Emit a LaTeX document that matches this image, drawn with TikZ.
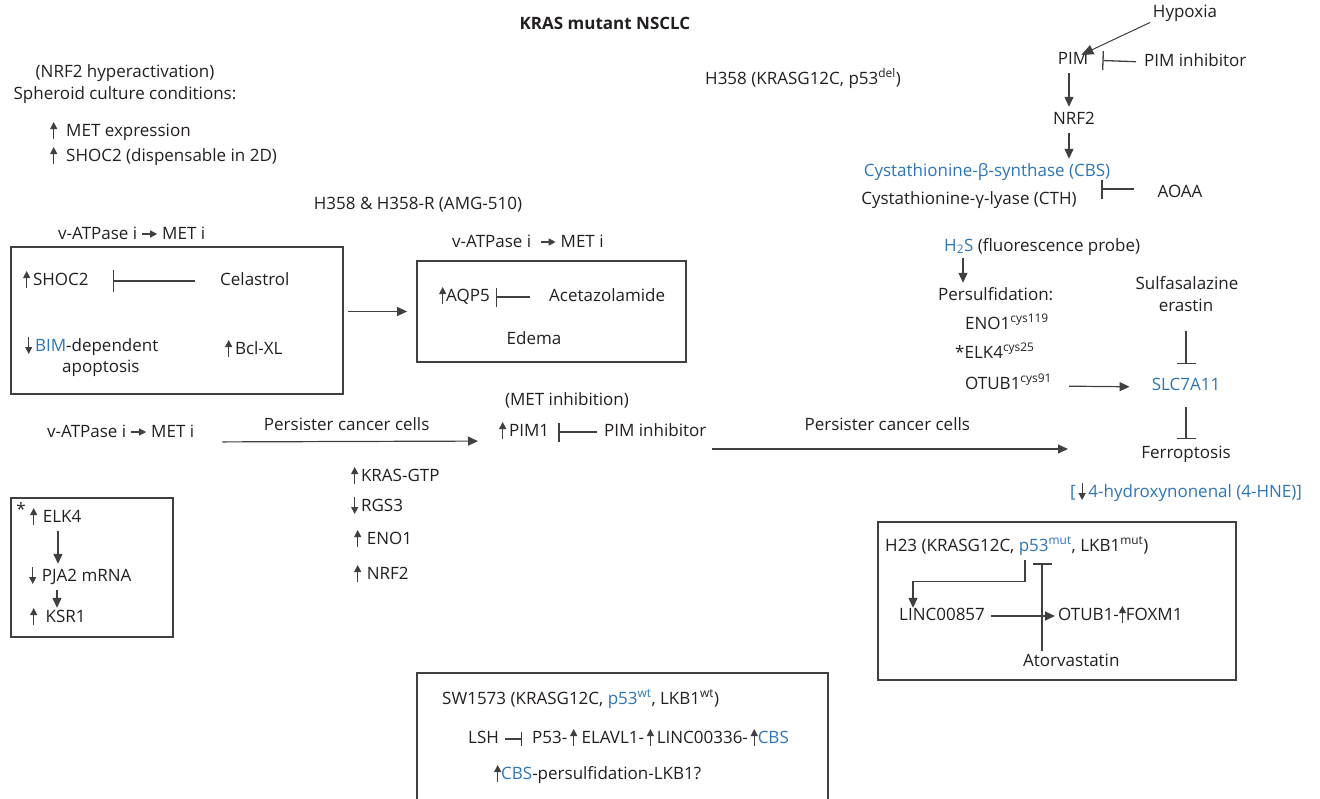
\documentclass[tikz,border=0pt]{standalone}
\usepackage{fontspec}
\setmainfont{Open Sans}
\usetikzlibrary{arrows.meta}

\definecolor{inkgray}{RGB}{35,31,32}
\definecolor{linegray}{RGB}{64,64,64}
\definecolor{geneblue}{RGB}{46,117,182}

% small arrows inside the texts
\newcommand{\arrup}{\tikz[baseline=0pt,x=1pt,y=1pt]\draw[linegray,line width=1.2pt,-{Triangle[length=7pt,width=7pt]}] (0,-3) -- (0,14);}
\newcommand{\arrdown}{\tikz[baseline=0pt,x=1pt,y=1pt]\draw[linegray,line width=1.2pt,-{Triangle[length=7pt,width=7pt]}] (0,14) -- (0,-3);}
\newcommand{\arrright}{\tikz[baseline=0pt,x=1pt,y=1pt]\draw[linegray,line width=1.2pt,-{Triangle[length=7pt,width=7pt]}] (0,5) -- (15,5);}
\newcommand{\gene}[1]{\textcolor{geneblue}{#1}}

\begin{document}
\begin{tikzpicture}[x=1pt,y=-1pt,
    txt/.style={font=\fontsize{17}{20}\selectfont, text=inkgray, inner sep=0pt, text height=12pt, text depth=4pt},
    lft/.style={txt, anchor=west},
    arr/.style={draw=linegray, line width=1.2pt, -{Triangle[length=10pt,width=9pt]}},
    inh/.style={draw=linegray, line width=1.3pt, -{Bar[width=19pt,line width=1.3pt]}},
    box/.style={draw=linegray, line width=1.7pt, inner sep=0pt}]
    \useasboundingbox (0,0) rectangle (1320,798);

    % title
    \node[txt, font=\fontsize{17}{20}\selectfont\bfseries] (title) at (605,25) {KRAS mutant NSCLC};

    % spheroid culture notes
    \node[txt] (hyperact) at (125,73) {(NRF2 hyperactivation)};
    \node[txt] (spheroid) at (125,95) {Spheroid culture conditions:};
    \node[lft] (metexpr) at (50,132) {\arrup\hspace{9pt}MET expression};
    \node[lft] (shocdisp) at (50,157) {\arrup\hspace{9pt}SHOC2 (dispensable in 2D)};

    % cell lines
    \node[lft] (hdel) at (705,80) {H358 (KRASG12C, p53\textsuperscript{del})};
    \node[txt] (hamg) at (418,205) {H358 \& H358-R (AMG-510)};

    % first box
    \node[lft] (vmeta) at (58,235) {v-ATPase i \arrright\ MET i};
    \node[box, minimum width=332, minimum height=147] (boxa) at (177,320.5) {};
    \node[lft] (shoc) at (23,281) {\arrup\,SHOC2};
    \node[lft] (celast) at (220,281) {Celastrol};
    \node[lft] (bim) at (25,347) {\arrdown\,\gene{BIM}-dependent};
    \node[lft] (apopt) at (62,368) {apoptosis};
    \node[lft] (bclxl) at (225,350) {\arrup\,Bcl-XL};
    \draw[inh, -{Bar[width=22pt,line width=1.3pt]}, shorten <=25pt, shorten >=24pt] (celast.west) -- (shoc.east);

    % second box
    \node[lft] (vmetb) at (452,243) {v-ATPase i \ \arrright\ MET i};
    \node[box, minimum width=269, minimum height=101] (boxb) at (551.5,311.5) {};
    \node[lft] (aqp) at (439,297) {\arrup AQP5};
    \node[lft] (acetaz) at (549,297) {Acetazolamide};
    \node[txt] (edema) at (534,340) {Edema};
    \draw[inh, shorten <=19pt, shorten >=6pt] (acetaz.west) -- (aqp.east);
    \draw[arr, shorten <=4pt, shorten >=9pt] (boxa.east |- boxb.west) -- (boxb.west);

    % persister cells, PIM1
    \node[lft] (vmetc) at (47,433) {v-ATPase i \arrright\ MET i};
    \node[txt] (metinh) at (567,401) {(MET inhibition)};
    \node[lft] (pimone) at (499,432) {\arrup\,PIM1};
    \node[lft] (piminha) at (604,432) {PIM inhibitor};
    \draw[arr, shorten <=28pt, shorten >=21pt] ([yshift=-9pt]vmetc.east) -- ([yshift=-9pt]pimone.west)
        node[txt, midway, above=6pt] (persista) {Persister cancer cells};
    \draw[inh, shorten <=7pt, shorten >=9pt] (piminha.west) -- (pimone.east);
    \coordinate (persistend) at (1068,449);
    \draw[arr, shorten <=5pt] ([yshift=-17pt]piminha.east) -- (persistend)
        node[txt, midway, above=14pt] (persistb) {Persister cancer cells};

    \node[lft] (krasgtp) at (351,477) {\arrup\,KRAS-GTP};
    \node[lft] (rgs) at (351,507) {\arrdown\,RGS3};
    \node[lft] (enoa) at (354,540) {\arrup\,\,ENO1};
    \node[lft] (nrfb) at (354,575) {\arrup\,\,NRF2};

    % ELK4 box
    \node[box, minimum width=162, minimum height=139] (boxc) at (92,567.5) {};
    \node[txt] (star) at (21,511) {*};
    \node[lft] (elk) at (30,518) {\arrup\,\,ELK4};
    \node[lft] (pja) at (29,577) {\arrdown\,\,PJA2 mRNA};
    \node[lft] (ksr) at (30,618) {\arrup\,\,\,KSR1};
    \draw[arr, shorten <=5pt, shorten >=5pt] ([xshift=28pt]elk.south west) -- ([xshift=28pt]elk.south west |- pja.north);
    \draw[arr, shorten <=5pt, shorten >=2pt] ([xshift=28pt]pja.south west) -- ([xshift=28pt]pja.south west |- ksr.north);

    % hypoxia - PIM - NRF2 - CBS
    \node[txt] (hypoxia) at (1185,13) {Hypoxia};
    \node[txt] (pim) at (1073,60) {PIM};
    \node[lft] (piminhb) at (1144,62) {PIM inhibitor};
    \node[txt] (nrf) at (1074,120) {NRF2};
    \node[txt, text=geneblue] (cbs) at (987,172) {Cystathionine-β-synthase (CBS)};
    \node[txt] (cth) at (969,200) {Cystathionine-γ-lyase (CTH)};
    \node[txt] (aoaa) at (1180,193) {AOAA};
    \draw[arr, line width=1pt, -{Triangle[length=12pt,width=10pt]}, shorten <=3pt] (hypoxia.south west) -- ([xshift=-7pt,yshift=-3pt]pim.north east);
    \draw[inh, shorten <=8pt, shorten >=14pt] (piminhb.west) -- (pim.east);
    \draw[arr, shorten <=5pt, shorten >=5pt] ([xshift=-4pt]pim.south) -- ([xshift=-4pt]pim.south |- nrf.north);
    \draw[arr, shorten <=5pt, shorten >=5pt] ([xshift=-5pt]nrf.south) -- ([xshift=-5pt]nrf.south |- cbs.north);
    \draw[inh, shorten <=23pt] ([yshift=4pt]aoaa.west) -- ++(-56,0);

    % H2S and persulfidation
    \node[lft] (hydsulf) at (944,247) {\gene{H\textsubscript{2}S} (fluorescence probe)};
    \node[lft] (persulf) at (938,296) {Persulfidation:};
    \node[lft] (enoc) at (965,325) {ENO1\textsuperscript{cys119}};
    \node[lft] (elkc) at (955,354) {*ELK4\textsuperscript{cys25}};
    \node[lft] (otubc) at (965,385) {OTUB1\textsuperscript{cys91}};
    \draw[arr, shorten <=3pt, shorten >=5pt] ([xshift=19pt]hydsulf.south west) -- ([xshift=19pt]hydsulf.south west |- persulf.north);

    % SLC7A11 and ferroptosis
    \node[txt] (sulfa) at (1187,285) {Sulfasalazine};
    \node[txt] (erastin) at (1186,307) {erastin};
    \node[txt, text=geneblue] (slc) at (1186,386) {SLC7A11};
    \node[txt] (ferro) at (1186,454) {Ferroptosis};
    \node[lft, text=geneblue] (hne) at (1070,493) {[\,\arrdown\,4-hydroxynonenal (4-HNE)]};
    \draw[arr, shorten <=17pt, shorten >=22pt] ([yshift=-1pt]otubc.east) -- ([yshift=-1pt]slc.west);
    \draw[inh, shorten <=16pt, shorten >=14pt] (erastin.south) -- (slc.north);
    \draw[inh, shorten <=13pt, shorten >=7pt] (slc.south) -- (ferro.north);

    % H23 box
    \node[box, minimum width=358, minimum height=158] (boxd) at (1057,601) {};
    \node[lft] (hthree) at (885,547) {H23 (KRASG12C, \gene{p53\textsuperscript{mut}}, LKB1\textsuperscript{mut})};
    \node[lft] (lincfive) at (899,616) {LINC00857};
    \node[lft] (otubf) at (1058,616) {OTUB1-\arrup FOXM1};
    \node[lft] (atorva) at (1023,662) {Atorvastatin};
    \draw[arr, shorten <=5pt] ([xshift=140pt]hthree.south west) -- ++(0,26) -| ([xshift=14pt]lincfive.north west);
    \draw[arr, shorten <=6pt, shorten >=3pt] (lincfive.east) -- (otubf.west);
    \draw[inh, shorten <=3pt, shorten >=8pt] ([xshift=19pt]atorva.north west) -- ([xshift=19pt]atorva.north west |- hthree.south);

    % SW1573 box
    \node[box, minimum width=411, minimum height=150] (boxe) at (622.5,748) {};
    \node[lft] (swcell) at (442,700) {SW1573 (KRASG12C, \gene{p53\textsuperscript{wt}}, LKB1\textsuperscript{wt})};
    \node[lft] (lsh) at (468,739) {LSH};
    \node[lft] (pchain) at (532,739) {P53-\,\arrup\ ELAVL1-\,\arrup\,LINC00336-\,\arrup\gene{CBS}};
    \node[lft] (cbspers) at (494,775) {\arrup\gene{CBS}-persulfidation-LKB1?};
    \draw[inh, -{Bar[width=14pt,line width=1.3pt]}, shorten <=6pt, shorten >=10pt] (lsh.east) -- (pchain.west);
\end{tikzpicture}
\end{document}
